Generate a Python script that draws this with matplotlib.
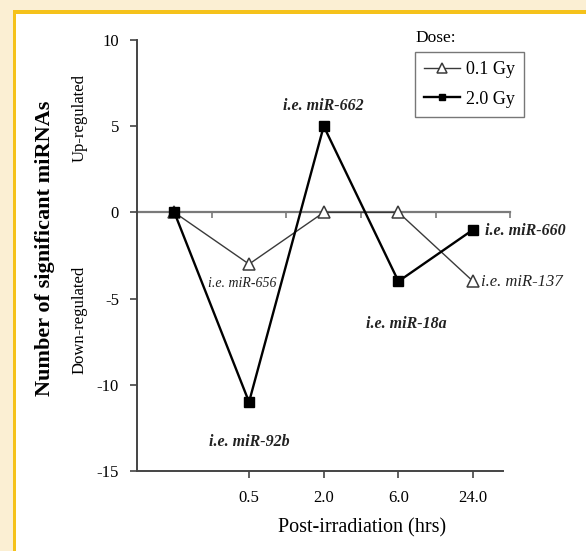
import matplotlib
matplotlib.use("Agg")
import matplotlib.pyplot as plt
from matplotlib.patches import Rectangle

plt.rcParams['font.family'] = ['Liberation Serif', 'DejaVu Serif']

categories = ['', '0.5', '2.0', '6.0', '24.0']
low_dose = [0, -3, 0, 0, -4]       # 0.1 Gy
high_dose = [0, -11, 5, -4, -1]    # 2.0 Gy
series_names = ['0.1 Gy', '2.0 Gy']
yticks = [-15, -10, -5, 0, 5, 10]

W, H = 586, 551
fig = plt.figure(figsize=(W / 100, H / 100), dpi=100)
fig.patch.set_facecolor('#FBEFD3')

def px(x0, y0, w, h):
    return (x0 / W, 1 - (y0 + h) / H, w / W, h / H)

# white panel and orange frame (top/left)
x0, y0, w, h = px(13, 10, W - 13, H - 10)
fig.patches.append(Rectangle((x0, y0), w, h, transform=fig.transFigure,
                             facecolor='#F5C21B', edgecolor='none', zorder=-20))
x0, y0, w, h = px(16, 14, W - 16, H - 14)
fig.patches.append(Rectangle((x0, y0), w, h, transform=fig.transFigure,
                             facecolor='white', edgecolor='none', zorder=-10))

ax = fig.add_axes([137 / W, 1 - 471 / H, (503 - 137) / W, (471 - 40) / H])
ax.set_zorder(1)
ax.set_facecolor('none')
x = list(range(len(categories)))
ax.set_xlim(-0.5, 4.4)
ax.set_ylim(-15, 10)

# zero line with small ticks
ax.plot([-0.5, 4.5], [0, 0], color='#7a7a7a', lw=1.6, clip_on=False, zorder=1)
ax.plot([0.5, 1.5, 2.5, 3.5, 4.5], [0] * 5, ls='none', marker=3, ms=4,
        mew=1.2, color='#7a7a7a', clip_on=False, zorder=1)

l1, = ax.plot(x, low_dose, color='#3a3a3a', lw=1.0, marker='^', ms=9,
              mfc='white', mec='#3a3a3a', mew=1.1, zorder=3, clip_on=False)
l2, = ax.plot(x, high_dose, color='black', lw=1.7, marker='s', ms=6.5,
              mfc='black', mec='black', zorder=4, clip_on=False)

for s in ['top', 'right']:
    ax.spines[s].set_visible(False)
for s in ['left', 'bottom']:
    ax.spines[s].set_color('#444444')
    ax.spines[s].set_linewidth(1.4)

ax.set_yticks(yticks)
ax.set_yticklabels([str(v) for v in yticks])
ax.set_xticks(x[1:])
ax.set_xticklabels(categories[1:])
ax.tick_params(axis='y', direction='out', length=5, width=1.2, color='#444444',
               labelsize=12, pad=8)
ax.tick_params(axis='x', direction='out', length=5, width=1.2, color='#444444',
               labelsize=12, pad=9)

# annotations
ann_bold = dict(fontsize=11.5, style='italic', fontweight='bold', color='#222222')
ann_reg = dict(fontsize=10, style='italic', color='#222222')
ax.text(2, 6.15, 'i.e. miR-662', ha='center', va='center', **ann_bold)
ax.text(0.91, -4.1, 'i.e. miR-656', ha='center', va='center', **ann_reg)
ax.text(1, -13.3, 'i.e. miR-92b', ha='center', va='center', **ann_bold)
ax.text(3.1, -6.45, 'i.e. miR-18a', ha='center', va='center', **ann_bold)
ax.text(4.16, -1.05, 'i.e. miR-660', ha='left', va='center', **ann_bold)
ax.text(4.1, -4.06, 'i.e. miR-137', ha='left', va='center',
        fontsize=12, style='italic', color='#222222')

# y labels
fig.text(45 / W, 1 - 248 / H, 'Number of significant miRNAs', rotation=90,
         ha='center', va='center', fontsize=16, fontweight='bold')
fig.text(80 / W, 1 - 118 / H, 'Up-regulated', rotation=90, ha='center',
         va='center', fontsize=12)
fig.text(80 / W, 1 - 320 / H, 'Down-regulated', rotation=90, ha='center',
         va='center', fontsize=12)

fig.text(362 / W, 1 - 528 / H, 'Post-irradiation (hrs)', ha='center',
         va='center', fontsize=14.5)

# legend
fig.text(415 / W, 1 - 38 / H, 'Dose:', ha='left', va='center', fontsize=12.5)
leg = ax.legend([l1, l2], series_names, loc='upper left',
                bbox_to_anchor=(415 / W, 1 - 52 / H), bbox_transform=fig.transFigure,
                frameon=True, fancybox=False, fontsize=13, handlelength=2.0,
                handletextpad=0.3, borderpad=0.5, labelspacing=0.7,
                borderaxespad=0, markerscale=0.75)
leg.get_frame().set_edgecolor('#555555')
leg.get_frame().set_linewidth(1.0)

fig.savefig('out.png', dpi=100, facecolor=fig.get_facecolor())
